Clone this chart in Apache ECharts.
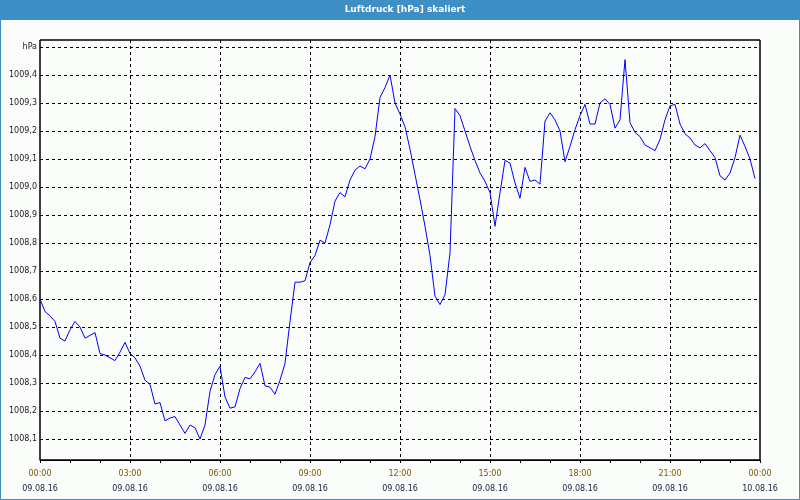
<!DOCTYPE html>
<html>
<head>
<meta charset="utf-8">
<script src="https://cdn.jsdelivr.net/npm/echarts@6/dist/echarts.min.js"></script>
<style>
html,body{margin:0;padding:0;background:#fbfdfb;}
#chart{width:800px;height:500px;}
</style>
</head>
<body>
<div id="chart"></div>
<script>
// Title and axis texts
const chartTitle = 'Luftdruck [hPa] skaliert';
const unitLabel = 'hPa';
const yTickValues = [1008.1, 1008.2, 1008.3, 1008.4, 1008.5, 1008.6, 1008.7, 1008.8, 1008.9, 1009.0, 1009.1, 1009.2, 1009.3, 1009.4, 1009.5];
const startTime = Date.UTC(2016, 7, 9, 0, 0);   // 09.08.16 00:00
const endTime = Date.UTC(2016, 7, 10, 0, 0);    // 10.08.16 00:00
const sampleStepMinutes = 10;

// Pressure values (hPa), one every 10 minutes
const pressure0000to0750 = [
  1008.60, 1008.555, 1008.54, 1008.52, 1008.46, 1008.45, 1008.49, 1008.52, 1008.50, 1008.46, 1008.47, 1008.48,
  1008.405, 1008.40, 1008.39, 1008.38, 1008.41, 1008.445, 1008.405, 1008.39, 1008.36, 1008.31, 1008.295, 1008.225,
  1008.23, 1008.165, 1008.175, 1008.18, 1008.15, 1008.12, 1008.15, 1008.14, 1008.10, 1008.15, 1008.27, 1008.33,
  1008.36, 1008.25, 1008.21, 1008.215, 1008.28, 1008.32, 1008.315, 1008.34, 1008.37, 1008.29, 1008.285, 1008.26
];
const pressure0800to1550 = [
  1008.31, 1008.37, 1008.52, 1008.66, 1008.66, 1008.665, 1008.73, 1008.755, 1008.81, 1008.80, 1008.865, 1008.95,
  1008.98, 1008.965, 1009.025, 1009.06, 1009.075, 1009.065, 1009.10, 1009.18, 1009.32, 1009.355, 1009.40, 1009.30,
  1009.26, 1009.215, 1009.135, 1009.045, 1008.955, 1008.86, 1008.755, 1008.61, 1008.58, 1008.615, 1008.765, 1009.28,
  1009.255, 1009.20, 1009.145, 1009.095, 1009.05, 1009.02, 1008.98, 1008.86, 1008.98, 1009.095, 1009.085, 1009.015
];
const pressure1600to2350 = [
  1008.96, 1009.07, 1009.02, 1009.025, 1009.01, 1009.235, 1009.265, 1009.24, 1009.20, 1009.09, 1009.145, 1009.205,
  1009.255, 1009.295, 1009.225, 1009.225, 1009.30, 1009.315, 1009.295, 1009.21, 1009.24, 1009.455, 1009.23, 1009.195,
  1009.18, 1009.15, 1009.14, 1009.13, 1009.17, 1009.24, 1009.29, 1009.295, 1009.225, 1009.19, 1009.175, 1009.15,
  1009.14, 1009.155, 1009.13, 1009.105, 1009.04, 1009.025, 1009.05, 1009.105, 1009.185, 1009.145, 1009.10, 1009.03
];

const pressure = pressure0000to0750.concat(pressure0800to1550, pressure1600to2350);
const seriesData = pressure.map((v, i) => [startTime + i * sampleStepMinutes * 60000, v]);

function pad(n){ return (n < 10 ? '0' : '') + n; }
function xLabel(t){
  const d = new Date(t);
  const time = pad(d.getUTCHours()) + ':' + pad(d.getUTCMinutes());
  const date = pad(d.getUTCDate()) + '.' + pad(d.getUTCMonth() + 1) + '.' + pad(d.getUTCFullYear() % 100);
  return '{t|' + time + '}\n{d|' + date + '}';
}

const FONT = 'DejaVu Sans';
const chart = echarts.init(document.getElementById('chart'), null, {renderer: 'canvas'});
chart.setOption({
  backgroundColor: '#fbfdfb',
  animation: false,
  graphic: [
    {type: 'rect', shape: {x: 0, y: 0, width: 800, height: 20}, style: {fill: '#3d8fc6'}, z: 10},
    {type: 'text', x: 405, y: 10, style: {text: chartTitle, fill: '#ffffff', font: 'bold 9px "DejaVu Sans"', align: 'center', verticalAlign: 'middle'}, z: 11},
    {type: 'rect', shape: {x: 0.5, y: 0.5, width: 799, height: 499}, style: {fill: 'none', stroke: '#3d8fc6', lineWidth: 1}, z: 12},
    {type: 'rect', shape: {x: 40, y: 40, width: 720, height: 420}, style: {fill: 'none', stroke: '#000', lineWidth: 1}, z: 9}
  ],
  grid: {left: 40, right: 40, top: 40, bottom: 40, show: true, borderColor: '#000', borderWidth: 1, backgroundColor: 'transparent'},
  xAxis: {
    type: 'value',
    min: startTime,
    max: endTime,
    interval: 3 * 3600 * 1000,
    axisLine: {show: true, lineStyle: {color: '#000', width: 1}},
    axisTick: {show: true, length: 3, lineStyle: {color: '#000'}},
    minorTick: {show: true, splitNumber: 3, length: 3, lineStyle: {color: '#000'}},
    splitLine: {show: true, showMinLine: false, showMaxLine: false, lineStyle: {color: '#000', width: 1, type: [3, 3]}},
    axisLabel: {
      margin: 6,
      formatter: xLabel,
      rich: {
        t: {color: '#7a5a00', fontFamily: FONT, fontSize: 8, lineHeight: 15, align: 'center'},
        d: {color: '#1e1e3a', fontFamily: FONT, fontSize: 8, lineHeight: 15, align: 'center'}
      }
    }
  },
  yAxis: {
    type: 'value',
    min: 1008.025,
    max: 1009.525,
    axisLine: {show: false},
    axisTick: {show: false, customValues: yTickValues},
    splitLine: {show: true, lineStyle: {color: '#000', width: 1, type: [3, 3]}},
    axisLabel: {
      customValues: yTickValues,
      margin: 3,
      fontFamily: FONT,
      fontSize: 8,
      color: '#1a1a1a',
      formatter: v => Math.abs(v - 1009.5) < 1e-6 ? unitLabel : v.toFixed(1).replace('.', ',')
    }
  },
  series: [{
    type: 'line',
    data: seriesData,
    showSymbol: false,
    symbol: 'none',
    lineStyle: {color: '#0000ff', width: 1},
    itemStyle: {color: '#0000ff'},
    z: 5
  }]
});
</script>
</body>
</html>
